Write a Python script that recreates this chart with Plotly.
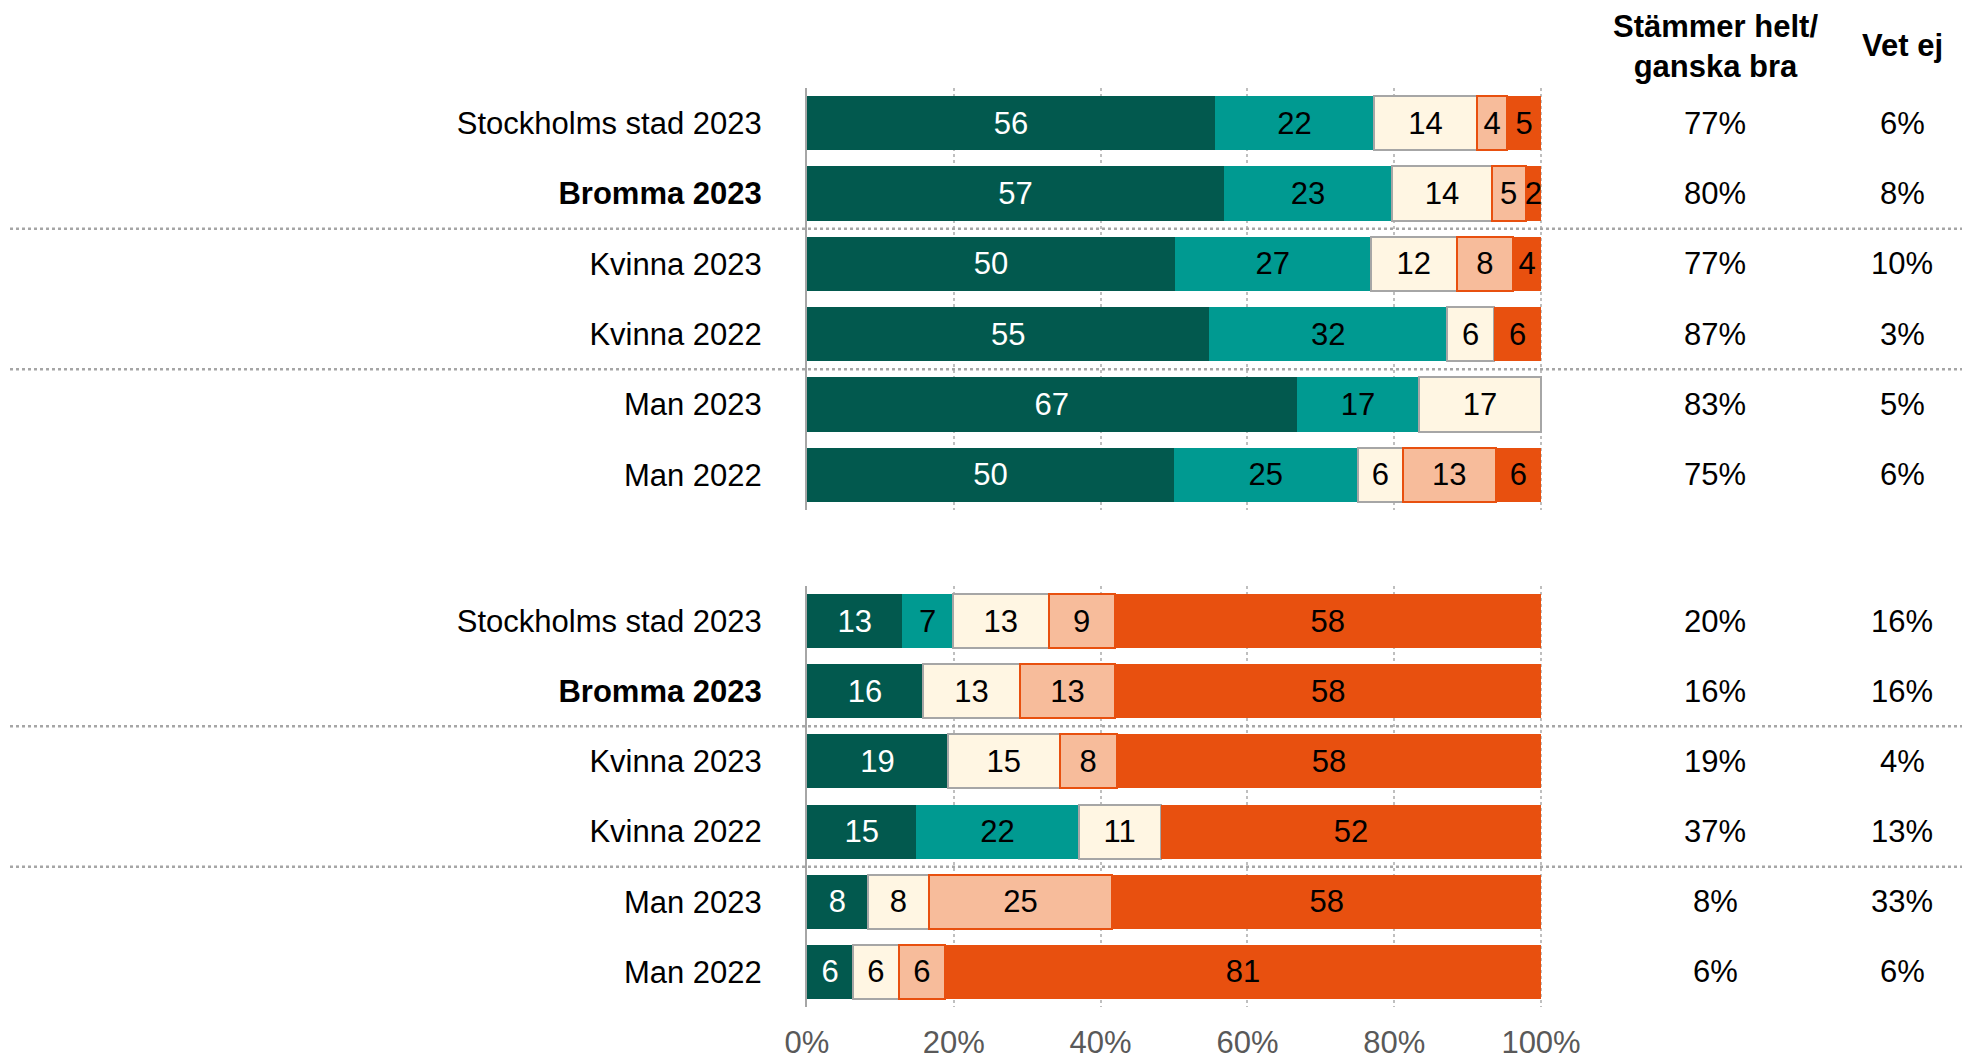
import plotly.graph_objects as go

# ---------------- data ----------------
rows = ["Stockholms stad 2023", "Bromma 2023", "Kvinna 2023", "Kvinna 2022", "Man 2023", "Man 2022"]
row_text = ["Stockholms stad 2023", "<b>Bromma 2023</b>", "Kvinna 2023", "Kvinna 2022", "Man 2023", "Man 2022"]

series_names = ["Stämmer helt", "Stämmer ganska bra", "Varken eller", "Stämmer ganska dåligt", "Stämmer inte alls"]

top_helt = [55.6, 56.8, 50.1, 54.8, 66.7, 50.0]
top_ganska = [21.6, 22.9, 26.7, 32.4, 16.7, 25.0]
top_varken = [14.1, 13.6, 11.7, 6.4, 16.6, 6.2]
top_daligt = [4.1, 4.6, 7.7, None, None, 12.6]
top_inte = [4.6, 2.1, 3.8, 6.4, None, 6.2]

bot_helt = [13.0, 15.8, 19.2, 14.9, 8.3, 6.3]
bot_ganska = [6.9, None, None, 22.1, None, None]
bot_varken = [13.0, 13.2, 15.2, 11.2, 8.3, 6.2]
bot_daligt = [9.0, 13.0, 7.8, None, 25.0, 6.3]
bot_inte = [58.1, 58.0, 57.8, 51.8, 58.4, 81.2]

top_agree = [77, 80, 77, 87, 83, 75]
top_vetej = [6, 8, 10, 3, 5, 6]
bot_agree = [20, 16, 19, 37, 8, 6]
bot_vetej = [16, 16, 4, 13, 33, 6]

x_ticks = [0, 20, 40, 60, 80, 100]
x_ticktext = ["0%", "20%", "40%", "60%", "80%", "100%"]
header_agree = "Stämmer helt/<br>ganska bra"
header_vetej = "Vet ej"

# ---------------- styles ----------------
FONT = "Liberation Sans, Arial, sans-serif"
FS = 31
OFF = 8                      # default page margin of the html body
W, H = 1972 - OFF, 1059 - OFF
colors = ["#02594E", "#009A91", "#FFF6E3", "#F7BC9B", "#E8500F"]
line_colors = [None, None, "#A6A6A6", "#E8500F", None]
text_colors = ["white", "#000000", "#000000", "#000000", "#000000"]


def px(v):
    return (v - OFF) / W


def py(v):
    return 1 - (v - OFF) / H


x_dom = [px(807), px(1542.5)]
top_dom = [py(510), py(88)]
bot_dom = [py(1007), py(586)]

fig = go.Figure()


def add_bars(series, xaxis, yaxis):
    for i, vals in enumerate(series):
        txt = ["" if v is None else f"{v:.0f}" for v in vals]
        lc = line_colors[i]
        fig.add_trace(go.Bar(
            x=vals, y=rows, orientation="h", name=series_names[i],
            marker=dict(color=colors[i],
                        line=dict(color=lc if lc else colors[i], width=2 if lc else 0)),
            text=txt, textposition="inside", insidetextanchor="middle", textangle=0,
            textfont=dict(family=FONT, size=FS, color=text_colors[i]),
            xaxis=xaxis, yaxis=yaxis, showlegend=False, hoverinfo="skip",
        ))


add_bars([top_helt, top_ganska, top_varken, top_daligt, top_inte], "x", "y")
add_bars([bot_helt, bot_ganska, bot_varken, bot_daligt, bot_inte], "x2", "y2")

xcommon = dict(range=[0, 100.2], domain=x_dom, tickvals=x_ticks, ticktext=x_ticktext,
               showgrid=True, gridcolor="#BFBFBF", griddash="dot", gridwidth=2,
               zeroline=False, showline=False, fixedrange=True, automargin=False,
               tickfont=dict(family=FONT, size=FS, color="#595959"))
ycommon = dict(categoryorder="array", categoryarray=rows, range=[5.5, -0.5],
               tickvals=rows, ticktext=row_text, showgrid=False, zeroline=False,
               showline=True, linecolor="#A6A6A6", linewidth=2, automargin=False,
               ticks="", ticklabelstandoff=37, fixedrange=True,
               tickfont=dict(family=FONT, size=FS, color="#000000"))

fig.update_layout(
    width=W, height=H, autosize=False,
    margin=dict(l=0, r=0, t=0, b=0, pad=0),
    paper_bgcolor="white", plot_bgcolor="white",
    barmode="stack", bargap=0.23, showlegend=False,
    uniformtext=dict(minsize=FS, mode="show"),
    font=dict(family=FONT, size=FS, color="#000000"),
    xaxis=dict(anchor="y", showticklabels=False, **xcommon),
    xaxis2=dict(anchor="y2", showticklabels=True, ticklabelstandoff=14, **xcommon),
    yaxis=dict(anchor="x", domain=top_dom, **ycommon),
    yaxis2=dict(anchor="x2", domain=bot_dom, **ycommon),
)

# separators
for yref in ["y", "y2"]:
    for yv in [1.5, 3.5]:
        fig.add_shape(type="line", xref="paper", yref=yref, x0=px(10), x1=px(1962),
                      y0=yv, y1=yv, line=dict(color="#A6A6A6", width=2.5, dash="dot"),
                      layer="above")

# right-hand columns
x_agree = px(1715)
x_vetej = px(1902)
for yref, agree, vetej in [("y", top_agree, top_vetej), ("y2", bot_agree, bot_vetej)]:
    for r, a, v in zip(rows, agree, vetej):
        fig.add_annotation(x=x_agree, y=r, xref="paper", yref=yref, text=f"{a}%",
                           showarrow=False, xanchor="center", yanchor="middle",
                           font=dict(family=FONT, size=FS, color="#000000"))
        fig.add_annotation(x=x_vetej, y=r, xref="paper", yref=yref, text=f"{v}%",
                           showarrow=False, xanchor="center", yanchor="middle",
                           font=dict(family=FONT, size=FS, color="#000000"))

fig.add_annotation(x=x_agree, y=py(46), xref="paper", yref="paper",
                   text=f"<b>{header_agree}</b>", showarrow=False,
                   xanchor="center", yanchor="middle", align="center",
                   font=dict(family=FONT, size=FS, color="#000000"))
fig.add_annotation(x=x_vetej, y=py(45), xref="paper", yref="paper",
                   text=f"<b>{header_vetej}</b>", showarrow=False,
                   xanchor="center", yanchor="middle",
                   font=dict(family=FONT, size=FS, color="#000000"))

fig.write_html("out.html")
